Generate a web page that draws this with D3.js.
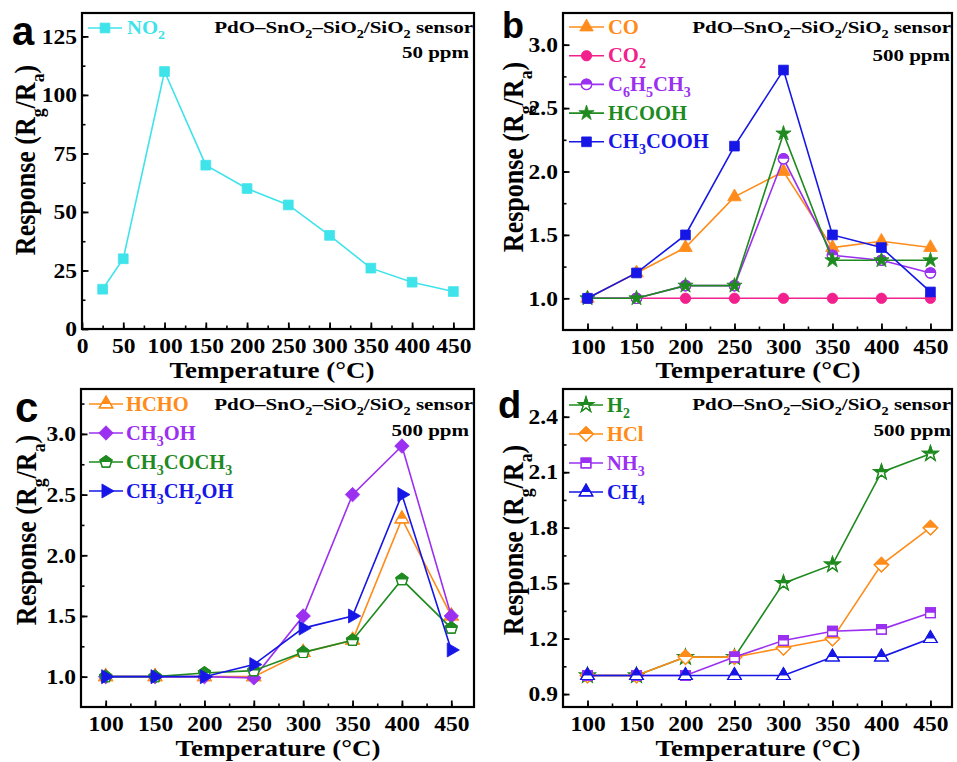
<!DOCTYPE html>
<html>
<head>
<meta charset="utf-8">
<script src="https://d3js.org/d3.v7.min.js"></script>
<style>
  html, body { margin: 0; padding: 0; background: #fff; }
  svg { display: block; }
</style>
</head>
<body>
<div id="chart"></div>
<script>
// ---------------- DATA ----------------
const tempsA = [25, 50, 100, 150, 200, 250, 300, 350, 400, 450];
const temps = [100, 150, 200, 250, 300, 350, 400, 450];

// panel a (50 ppm)
const no2 = [17, 30, 110, 70, 60, 53, 40, 26, 20, 16];

// panel b (500 ppm)
const co = [1.0, 1.2, 1.4, 1.8, 2.0, 1.4, 1.45, 1.4];
const co2 = [1.0, 1.0, 1.0, 1.0, 1.0, 1.0, 1.0, 1.0];
const toluene = [1.0, 1.0, 1.1, 1.1, 2.1, 1.34, 1.3, 1.2];
const hcooh = [1.0, 1.0, 1.1, 1.1, 2.3, 1.3, 1.3, 1.3];
const ch3cooh = [1.0, 1.2, 1.5, 2.2, 2.8, 1.5, 1.4, 1.05];

// panel c (500 ppm)
const hcho = [1.0, 1.0, 1.0, 1.0, 1.2, 1.3, 2.3, 1.5];
const ch3oh = [1.0, 1.0, 1.0, 0.99, 1.5, 2.5, 2.9, 1.5];
const acetone = [1.0, 1.0, 1.03, 1.05, 1.2, 1.3, 1.8, 1.4];
const ethanol = [1.0, 1.0, 1.0, 1.1, 1.4, 1.5, 2.5, 1.22];

// panel d (500 ppm)
const h2 = [1.0, 1.0, 1.1, 1.1, 1.5, 1.6, 2.1, 2.2];
const hcl = [1.0, 1.0, 1.1, 1.1, 1.15, 1.2, 1.6, 1.8];
const nh3 = [1.0, 1.0, 1.0, 1.1, 1.19, 1.24, 1.25, 1.34];
const ch4 = [1.0, 1.0, 1.0, 1.0, 1.0, 1.1, 1.1, 1.2];

// tick values
const xTicksA = [0, 50, 100, 150, 200, 250, 300, 350, 400, 450];
const xTicks = [100, 150, 200, 250, 300, 350, 400, 450];
const yTicksA = [0, 25, 50, 75, 100, 125];
const yTicksBC = [1.0, 1.5, 2.0, 2.5, 3.0];
const yTicksD = [0.9, 1.2, 1.5, 1.8, 2.1, 2.4];

// ---------------- STYLE ----------------
const SERIF = "'Liberation Serif','Times New Roman',Times,serif";
const SANS = "'Liberation Sans',Arial,sans-serif";
const C = {
  cyan: "#3fe3ea", orange: "#ff8c1a", pink: "#f2208c",
  purple: "#9b30f0", green: "#1f8a1f", blue: "#1616e6"
};
const TICK_FS = 21, TICK_SX = 1.12;
const XT_FS = 22.5, XT_SX = 1.2;
const YT_FS = 26, YT_SX = 1.1;
const ANN_FS = 17.5, ANN_SX = 1.2;

// custom symbol types
const symDiamond = { draw(ctx, size) { const r = Math.sqrt(size / 2); ctx.moveTo(0, -r); ctx.lineTo(r, 0); ctx.lineTo(0, r); ctx.lineTo(-r, 0); ctx.closePath(); } };
const symPentagon = { draw(ctx, size) { const r = Math.sqrt(size / 2.38); for (let i = 0; i < 5; i++) { const a = -Math.PI / 2 + i * 2 * Math.PI / 5; const px = r * Math.cos(a), py = r * Math.sin(a); i ? ctx.lineTo(px, py) : ctx.moveTo(px, py); } ctx.closePath(); } };
const symTriRight = { draw(ctx, size) { const s = Math.sqrt(size / 0.433); const h = s * 0.866; ctx.moveTo(h * 2 / 3, 0); ctx.lineTo(-h / 3, -s / 2); ctx.lineTo(-h / 3, s / 2); ctx.closePath(); } };
const symTriUp = { draw(ctx, size) { const s = Math.sqrt(size / 0.433); const h = s * 0.866; ctx.moveTo(0, -h * 2 / 3); ctx.lineTo(s / 2, h / 3); ctx.lineTo(-s / 2, h / 3); ctx.closePath(); } };

const SYM = {
  square: [d3.symbolSquare, 95],
  triangle: [symTriUp, 80],
  circle: [d3.symbolCircle, 85],
  star: [d3.symbolStar, 72],
  diamond: [symDiamond, 105],
  pentagon: [symPentagon, 95],
  triRight: [symTriRight, 85]
};

const svg = d3.select("#chart").append("svg").attr("width", 957).attr("height", 762);
const defs = svg.append("defs");
defs.append("clipPath").attr("id", "topHalf")
  .append("rect").attr("x", -20).attr("y", -20).attr("width", 40).attr("height", 20);

// text with "_x" subscripts
function rich(sel, str, size) {
  const parts = str.split(/_(.)/);
  let prevSub = false;
  parts.forEach((p, i) => {
    if (p === "") return;
    if (i % 2 === 1) {
      sel.append("tspan").attr("font-size", size * 0.68).attr("dy", size * 0.3).text(p);
      prevSub = true;
    } else {
      sel.append("tspan").attr("dy", prevSub ? -size * 0.3 : 0).text(p);
      prevSub = false;
    }
  });
  return sel;
}

// horizontally stretched text at (x, y)
function stext(g, x, y, fs, sx, anchor, color) {
  return g.append("text").attr("transform", `translate(${x},${y}) scale(${sx},1)`)
    .attr("text-anchor", anchor).attr("font-family", SERIF).attr("font-weight", "bold")
    .attr("font-size", fs).attr("fill", color);
}

function marker(g, sym, color, half) {
  const [type, size] = SYM[sym];
  const d = d3.symbol().type(type).size(size)();
  if (half) {
    g.append("path").attr("d", d).attr("fill", "#fff").attr("stroke", color).attr("stroke-width", 1.2);
    g.append("path").attr("d", d).attr("fill", color).attr("clip-path", "url(#topHalf)");
    g.append("path").attr("d", d).attr("fill", "none").attr("stroke", color).attr("stroke-width", 1.2);
  } else {
    g.append("path").attr("d", d).attr("fill", color).attr("stroke", color).attr("stroke-width", 0.8);
  }
}

const panels = [
  {
    letter: "a", letterPos: [12, 45, 40],
    box: [82, 13, 474, 329], xd: [0, 475], yd: [0, 135],
    xt: xTicksA, xm: d3.range(0, 476, 25), yt: yTicksA, ym: d3.range(0, 135, 12.5), yfmt: d3.format("d"),
    ytitle: [35, 160], xtitle: [272, 378], xpad: 9,
    ann: [473, 33, 469, 58, "50 ppm"],
    leg: { x1: 88, x2: 122, tx: 127, y0: 28, dy: 29, fs: 18, sx: 1.15 },
    series: [{ name: "NO_2", x: tempsA, y: no2, color: C.cyan, sym: "square", half: false }]
  },
  {
    letter: "b", letterPos: [502, 38, 36],
    box: [563, 13, 952, 330], xd: [75, 472], yd: [0.75, 3.25],
    xt: xTicks, xm: d3.range(75, 473, 25), yt: yTicksBC, ym: d3.range(0.75, 3.26, 0.25), yfmt: d3.format(".1f"),
    ytitle: [523, 157], xtitle: [758, 378], xpad: 9,
    ann: [951, 33, 950, 61, "500 ppm"],
    leg: { x1: 569, x2: 604, tx: 608, y0: 27, dy: 28.7, fs: 20, sx: 1.03 },
    series: [
      { name: "CO", x: temps, y: co, color: C.orange, sym: "triangle", half: false },
      { name: "CO_2", x: temps, y: co2, color: C.pink, sym: "circle", half: false },
      { name: "C_6H_5CH_3", x: temps, y: toluene, color: C.purple, sym: "circle", half: true },
      { name: "HCOOH", x: temps, y: hcooh, color: C.green, sym: "star", half: false },
      { name: "CH_3COOH", x: temps, y: ch3cooh, color: C.blue, sym: "square", half: false }
    ]
  },
  {
    letter: "c", letterPos: [15, 422, 42],
    box: [81, 389, 474, 707], xd: [75, 473], yd: [0.75, 3.37],
    xt: xTicks, xm: d3.range(75, 474, 25), yt: yTicksBC, ym: d3.range(0.75, 3.37, 0.25), yfmt: d3.format(".1f"),
    ytitle: [36, 530], xtitle: [278, 756], xpad: 9.5,
    ann: [473, 410, 469, 436, "500 ppm"],
    leg: { x1: 89, x2: 123, tx: 126, y0: 404, dy: 29, fs: 20.5, sx: 1.0 },
    series: [
      { name: "HCHO", x: temps, y: hcho, color: C.orange, sym: "triangle", half: true },
      { name: "CH_3OH", x: temps, y: ch3oh, color: C.purple, sym: "diamond", half: false },
      { name: "CH_3COCH_3", x: temps, y: acetone, color: C.green, sym: "pentagon", half: true },
      { name: "CH_3CH_2OH", x: temps, y: ethanol, color: C.blue, sym: "triRight", half: false }
    ]
  },
  {
    letter: "d", letterPos: [498, 418, 38],
    box: [563, 389, 952, 707], xd: [75, 472], yd: [0.83, 2.55],
    xt: xTicks, xm: d3.range(75, 473, 25), yt: yTicksD, ym: d3.range(0.9, 2.55, 0.15), yfmt: d3.format(".1f"),
    ytitle: [523, 540], xtitle: [758, 756], xpad: 9.5,
    ann: [951, 410, 951, 436, "500 ppm"],
    leg: { x1: 569, x2: 603, tx: 607, y0: 405, dy: 29, fs: 20.5, sx: 1.0 },
    series: [
      { name: "H_2", x: temps, y: h2, color: C.green, sym: "star", half: true },
      { name: "HCl", x: temps, y: hcl, color: C.orange, sym: "diamond", half: true },
      { name: "NH_3", x: temps, y: nh3, color: C.purple, sym: "square", half: true },
      { name: "CH_4", x: temps, y: ch4, color: C.blue, sym: "triangle", half: true }
    ]
  }
];

panels.forEach(p => {
  const [L, T, R, B] = p.box;
  const x = d3.scaleLinear().domain(p.xd).range([L, R]);
  const y = d3.scaleLinear().domain(p.yd).range([B, T]);
  const g = svg.append("g");

  // minor ticks
  g.append("g").attr("transform", `translate(0,${B})`)
    .call(d3.axisBottom(x).tickValues(p.xm.filter(v => v > p.xd[0] && v < p.xd[1])).tickSizeInner(-3.5).tickSizeOuter(0).tickFormat(""))
    .call(s => s.select(".domain").remove())
    .call(s => s.selectAll("line").attr("stroke", "#000").attr("stroke-width", 1.6));
  g.append("g").attr("transform", `translate(${L},0)`)
    .call(d3.axisLeft(y).tickValues(p.ym.filter(v => v > p.yd[0] && v < p.yd[1])).tickSizeInner(-3.5).tickSizeOuter(0).tickFormat(""))
    .call(s => s.select(".domain").remove())
    .call(s => s.selectAll("line").attr("stroke", "#000").attr("stroke-width", 1.6));

  // major ticks
  g.append("g").attr("transform", `translate(0,${B})`)
    .call(d3.axisBottom(x).tickValues(p.xt).tickSizeInner(-6.5).tickSizeOuter(0).tickPadding(p.xpad).tickFormat(d3.format("d")))
    .call(s => s.select(".domain").remove())
    .call(s => s.selectAll("line").attr("stroke", "#000").attr("stroke-width", 1.8))
    .call(s => s.selectAll("text").attr("font-family", SERIF).attr("font-weight", "bold").attr("font-size", TICK_FS)
      .attr("fill", "#000").attr("transform", `scale(${TICK_SX},1)`));
  g.append("g").attr("transform", `translate(${L},0)`)
    .call(d3.axisLeft(y).tickValues(p.yt).tickSizeInner(-6.5).tickSizeOuter(0).tickPadding(4.5).tickFormat(p.yfmt))
    .call(s => s.select(".domain").remove())
    .call(s => s.selectAll("line").attr("stroke", "#000").attr("stroke-width", 1.8))
    .call(s => s.selectAll("text").attr("font-family", SERIF).attr("font-weight", "bold").attr("font-size", TICK_FS)
      .attr("fill", "#000").attr("transform", `scale(${TICK_SX},1)`));

  // frame
  g.append("rect").attr("x", L).attr("y", T).attr("width", R - L).attr("height", B - T)
    .attr("fill", "none").attr("stroke", "#000").attr("stroke-width", 2.2);

  // series
  const line = d3.line().x(d => x(d[0])).y(d => y(d[1]));
  p.series.forEach(s => {
    const pts = s.x.map((t, i) => [t, s.y[i]]);
    g.append("path").attr("d", line(pts)).attr("fill", "none").attr("stroke", s.color).attr("stroke-width", 1.6);
    pts.forEach(pt => {
      const mg = g.append("g").attr("transform", `translate(${x(pt[0])},${y(pt[1])})`);
      marker(mg, s.sym, s.color, s.half);
    });
  });

  // legend
  p.series.forEach((s, i) => {
    const ly = p.leg.y0 + i * p.leg.dy;
    g.append("line").attr("x1", p.leg.x1).attr("x2", p.leg.x2).attr("y1", ly).attr("y2", ly)
      .attr("stroke", s.color).attr("stroke-width", 1.6);
    const mg = g.append("g").attr("transform", `translate(${(p.leg.x1 + p.leg.x2) / 2},${ly})`);
    marker(mg, s.sym, s.color, s.half);
    const t = stext(g, p.leg.tx, ly + p.leg.fs * 0.33, p.leg.fs, p.leg.sx, "start", s.color);
    rich(t, s.name, p.leg.fs);
  });

  // annotation
  const a1 = stext(g, p.ann[0], p.ann[1], ANN_FS, ANN_SX, "end", "#000");
  rich(a1, "PdO–SnO_2–SiO_2/SiO_2 sensor", ANN_FS);
  stext(g, p.ann[2], p.ann[3], ANN_FS, ANN_SX, "end", "#000").text(p.ann[4]);

  // axis titles
  stext(g, p.xtitle[0], p.xtitle[1], XT_FS, XT_SX, "middle", "#000").text("Temperature (°C)");
  const yt = g.append("text")
    .attr("transform", `translate(${p.ytitle[0]},${p.ytitle[1]}) rotate(-90) scale(1,${YT_SX})`)
    .attr("text-anchor", "middle")
    .attr("font-family", SERIF).attr("font-weight", "bold").attr("font-size", YT_FS).attr("fill", "#000");
  rich(yt, "Response (R_g/R_a)", YT_FS);

  // panel letter
  g.append("text").attr("x", p.letterPos[0]).attr("y", p.letterPos[1])
    .attr("font-family", SANS).attr("font-weight", "bold").attr("font-size", p.letterPos[2]).attr("fill", "#000")
    .text(p.letter);
});
</script>
</body>
</html>
